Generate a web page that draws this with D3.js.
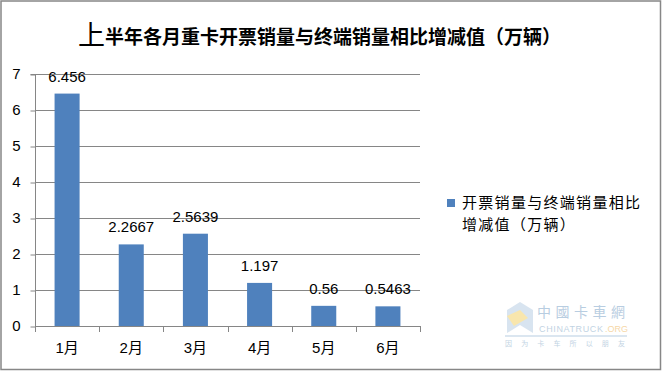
<!DOCTYPE html>
<html><head><meta charset="utf-8">
<script src="https://cdn.jsdelivr.net/npm/d3@7"></script>
<style>body{margin:0;background:#fff}svg{display:block}</style>
</head><body>
<script>
const categories = ["1月","2月","3月","4月","5月","6月"];
const values = [6.456, 2.2667, 2.5639, 1.197, 0.56, 0.5463];
const valueLabels = ["6.456","2.2667","2.5639","1.197","0.56","0.5463"];
const yTicks = [0,1,2,3,4,5,6,7];
const seriesName = ["开票销量与终端销量相比", "增减值（万辆）"];

const W = 662, H = 371;
const svg = d3.select("body").append("svg").attr("width", W).attr("height", H);
svg.append("rect").attr("x",1).attr("y",1).attr("width",W-2.5).attr("height",H-2.5)
  .attr("fill","#fff").attr("stroke","#878787").attr("stroke-width",1.5);

const x = d3.scaleBand().domain(categories).range([35, 420]).paddingInner(0.61).paddingOuter(0.305);
const y = d3.scaleLinear().domain([0, 7]).range([326, 74]);
const font = "'Liberation Sans', 'Noto Sans CJK SC', sans-serif";

// gridlines
svg.append("g").selectAll("line").data(yTicks.filter(d=>d>0)).join("line")
  .attr("x1",35).attr("x2",420).attr("y1",d=>y(d)+0.5).attr("y2",d=>y(d)+0.5)
  .attr("stroke","#868686").attr("stroke-width",1);

// y axis
const ya = svg.append("g").attr("transform","translate(35.5,0)")
  .call(d3.axisLeft(y).tickValues(yTicks).tickSize(5).tickPadding(10).tickFormat(d3.format("d")));
ya.select(".domain").attr("stroke","#868686").attr("d","M-5,"+(y(7)+0.5)+"H0V"+(y(0)+0.5));
ya.selectAll(".tick line").attr("stroke","#868686").attr("transform","translate(0,0.5)");
ya.selectAll("text").attr("font-family",font).attr("font-size",15).attr("fill","#000");

// bars
svg.append("g").selectAll("rect").data(values).join("rect")
  .attr("x",(d,i)=>x(categories[i])).attr("width",x.bandwidth())
  .attr("y",d=>y(d)).attr("height",d=>y(0)-y(d)).attr("fill","#4F81BD");

// x axis
const xEdges = categories.map(c=>x(c)-x.step()*x.paddingInner()/2).concat([420]);
svg.append("line").attr("x1",35).attr("x2",420).attr("y1",y(0)+0.5).attr("y2",y(0)+0.5).attr("stroke","#868686");
svg.append("g").selectAll("line").data(xEdges).join("line")
  .attr("x1",d=>Math.round(d)+0.5).attr("x2",d=>Math.round(d)+0.5).attr("y1",y(0)).attr("y2",y(0)+6).attr("stroke","#868686");
svg.append("g").selectAll("text").data(categories).join("text")
  .attr("x",d=>x(d)+x.bandwidth()/2).attr("y",353).attr("text-anchor","middle")
  .attr("font-family",font).attr("font-size",15).text(d=>d);

// value labels
svg.append("g").selectAll("text").data(values).join("text")
  .attr("x",(d,i)=>x(categories[i])+x.bandwidth()/2).attr("y",d=>y(d)-12).attr("text-anchor","middle")
  .attr("font-family",font).attr("font-size",15).text((d,i)=>valueLabels[i]);

// title
const t = svg.append("text").attr("x",78).attr("y",45).attr("font-family","'Noto Sans CJK SC', sans-serif").attr("font-weight","bold").attr("fill","#000");
t.append("tspan").attr("font-size",27).attr("font-weight","normal").text("上");
t.append("tspan").attr("font-size",19).attr("dy",-1).text("半年各月重卡开票销量与终端销量相比增减值（万辆）");

// legend
svg.append("rect").attr("x",447).attr("y",199).attr("width",8).attr("height",8).attr("fill","#4F81BD");
svg.append("g").selectAll("text").data(seriesName).join("text")
  .attr("x",462).attr("y",(d,i)=>208+i*22).attr("font-family","'Noto Sans CJK SC', sans-serif")
  .attr("font-size",15).attr("letter-spacing",1.3).text(d=>d);

// watermark
const wm = svg.append("g").attr("opacity",0.55);
wm.append("polygon").attr("points","507,310 520,302 533,310 533,333 520,325 507,333").attr("fill","#b9cfe4");
wm.append("polygon").attr("points","507,316 520,310 528,318 514,326").attr("fill","#f3d36b");
wm.append("text").attr("x",537).attr("y",317).attr("font-family","'Noto Sans CJK SC', serif").attr("font-size",14).attr("fill","#7fa6c9").attr("textLength",88).text("中國卡車網");
wm.append("text").attr("x",539).attr("y",332).attr("font-family",font).attr("font-size",9).attr("fill","#8fb0cc").attr("textLength",64).text("CHINATRUCK");
wm.append("text").attr("x",605).attr("y",332).attr("font-family",font).attr("font-size",9).attr("fill","#f0b860").text(".ORG");
wm.append("line").attr("x1",505).attr("x2",627).attr("y1",336).attr("y2",336).attr("stroke","#7fa6c9");
wm.append("text").attr("x",505).attr("y",346).attr("font-family","'Noto Sans CJK SC', sans-serif").attr("font-size",7).attr("fill","#8fb0cc").attr("textLength",120).text("因为卡车所以朋友");
</script>
</body></html>
